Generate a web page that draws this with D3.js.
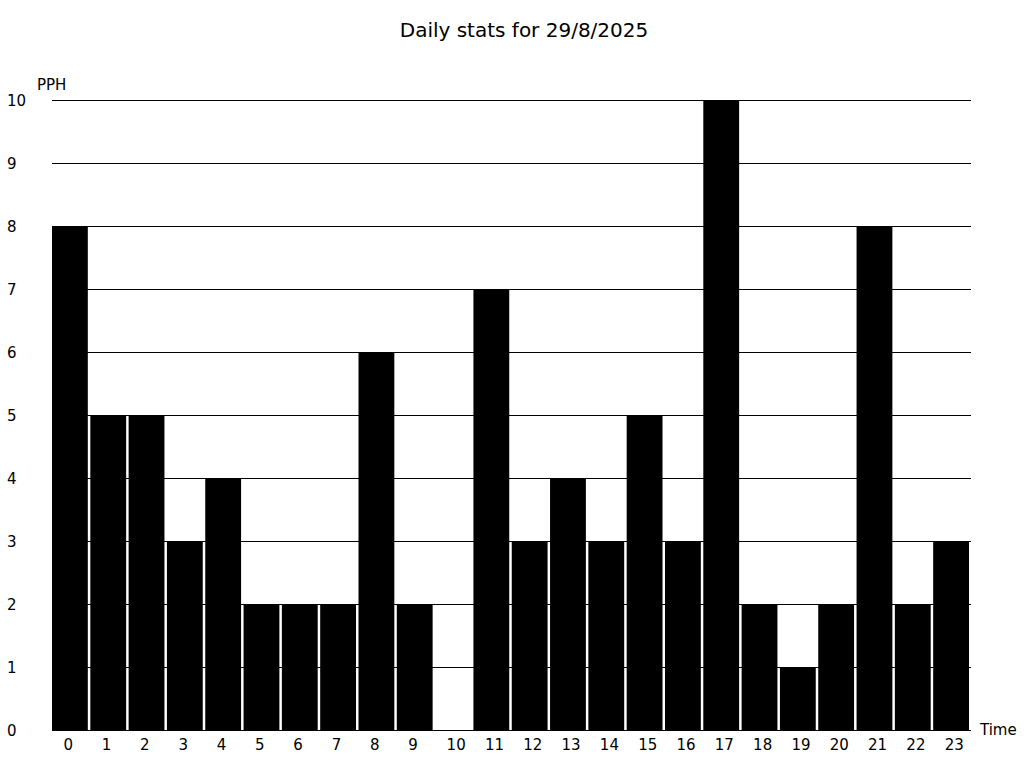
<!DOCTYPE html>
<html lang="en">
<head>
  <meta charset="utf-8">
  <script src="https://d3js.org/d3.v7.min.js"></script>
  <style>
    body { margin: 0; background: #fff; }
    text { font-family: "DejaVu Sans", sans-serif; fill: #000; }
  </style>
</head>
<body>
  <svg id="chart" width="1024" height="768"></svg>
  <script>
    const hours = d3.range(0, 24).map(String);
    const pph = [8, 5, 5, 3, 4, 2, 2, 2, 6, 2, 0, 7, 3, 4, 3, 5, 3, 10, 2, 1, 2, 8, 2, 3];
    const yTicks = [0, 1, 2, 3, 4, 5, 6, 7, 8, 9, 10];

    const svg = d3.select("svg#chart");
    const plotLeft = 52, plotRight = 971, plotTop = 100, plotBottom = 730;

    const x = d3.scaleBand().domain(hours).range([plotLeft, 969]).paddingInner(0.065).paddingOuter(0);
    const y = d3.scaleLinear().domain([0, 10]).range([plotBottom, plotTop]);

    svg.append("text")
      .attr("x", 524).attr("y", 37)
      .attr("text-anchor", "middle")
      .attr("font-size", 20)
      .text("Daily stats for 29/8/2025");

    // grid lines
    svg.append("g")
      .selectAll("line")
      .data(yTicks)
      .join("line")
      .attr("x1", plotLeft).attr("x2", plotRight)
      .attr("y1", d => Math.round(y(d)) + 0.5)
      .attr("y2", d => Math.round(y(d)) + 0.5)
      .attr("stroke", "#000")
      .attr("stroke-width", 1);

    svg.append("g")
      .selectAll("text")
      .data(yTicks)
      .join("text")
      .attr("x", 7)
      .attr("y", d => y(d) + 5.5)
      .attr("font-size", 15)
      .text(d => d);

    // bars
    svg.append("g")
      .selectAll("rect")
      .data(pph)
      .join("rect")
      .attr("x", (d, i) => x(hours[i]))
      .attr("y", d => y(d))
      .attr("width", x.bandwidth())
      .attr("height", d => plotBottom - y(d))
      .attr("fill", "#000");

    // hour labels sit a little right of each bar's left edge
    svg.append("g")
      .selectAll("text")
      .data(hours)
      .join("text")
      .attr("x", d => x(d) + 11.5)
      .attr("y", 750)
      .attr("font-size", 15)
      .text(d => d);

    svg.append("text").attr("x", 37).attr("y", 90).attr("font-size", 15).text("PPH");
    svg.append("text").attr("x", 980).attr("y", 735).attr("font-size", 15).text("Time");
  </script>
</body>
</html>
